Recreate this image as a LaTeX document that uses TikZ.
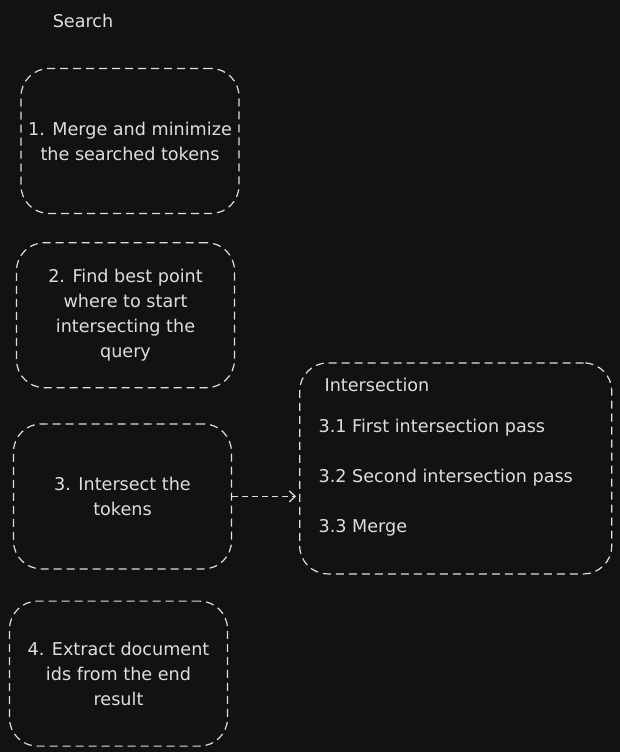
\documentclass[tikz,border=0pt]{standalone}
\usepackage{fontspec}
\setmainfont{DejaVu Sans}
\usetikzlibrary{arrows.meta, positioning}
\definecolor{canvas}{HTML}{121212}
\definecolor{ink}{HTML}{DEDEDE}

\begin{document}
\begin{tikzpicture}[x=1pt, y=-1pt, every node/.style={font={\fontsize{17.6}{25}\selectfont}, text=ink}, >={Straight Barb[length=6pt,width=11pt]},
    stepbox/.style={draw=ink, dash pattern=on 8pt off 5pt, line width=1.2pt, rounded corners=28pt, minimum width=218pt, minimum height=145pt, inner sep=0pt, align=center}]
    \fill[canvas] (0,0) rectangle (620,752);
    \useasboundingbox (0,0) rectangle (620,752);
    \node (search) at (83,21) {Search};
    \node[stepbox] (merge) at (130,141) {1. Merge and minimize\\the searched tokens};
    \node[stepbox] (start) [below=28pt of merge, xshift=-4.5pt] {2. Find best point\\where to start\\intersecting the\\query};
    \node[stepbox] (ints) [below=35pt of start, xshift=-3pt] {3. Intersect the\\tokens};
    \node[stepbox] (extract) [below=31pt of ints, xshift=-4pt] {4. Extract document\\ids from the end\\result};
    \node[stepbox, minimum width=312pt, minimum height=211pt] (inter) [right=67pt of ints, yshift=28pt] {};
    \node[anchor=west] (head) at ([xshift=22pt, yshift=-23pt]inter.north west) {Intersection};
    \foreach \n/\t in {1/First intersection pass, 2/Second intersection pass, 3/Merge}
        \node[anchor=west] (pass\n) at ([xshift=16pt, yshift={-15pt-50pt*\n}]inter.north west) {3.\n\ \t};
    
    \draw[->, ink, dash pattern=on 6pt off 4pt, line width=1.2pt, shorten >=3pt] (ints.east) -- (ints.east -| inter.west);
\end{tikzpicture}
\end{document}
